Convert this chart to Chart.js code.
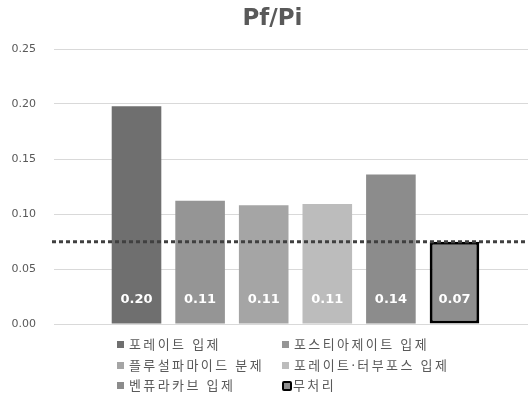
<!DOCTYPE html>
<html>
<head>
<meta charset="utf-8">
<script src="https://cdn.jsdelivr.net/npm/chart.js@4.4.1/dist/chart.umd.min.js"></script>
<style>
  html, body { margin: 0; padding: 0; background: #ffffff; }
  #wrap { position: relative; width: 528px; height: 398px; overflow: hidden; }
  #c { position: absolute; left: 0; top: 0; }
  #legend {
    position: absolute; left: 117px; top: 336px;
    display: grid; grid-template-columns: 165px 200px; row-gap: 3.5px;
    font-family: "Noto Sans", "Noto Sans CJK KR", sans-serif;
    font-size: 13px; letter-spacing: 2.4px; color: #595959; line-height: 17px;
  }
  .item { display: flex; align-items: center; white-space: nowrap; }
  .mk { display: inline-block; width: 7px; height: 7px; margin-right: 5px; box-sizing: border-box; flex: none; }
</style>
</head>
<body>
<div id="wrap">
  <canvas id="c" width="537" height="398"></canvas>
  <div id="legend"></div>
</div>
<script>
// Pf/Pi ratio per nematicide treatment
const chartTitle = 'Pf/Pi';
const categories = [''];
const seriesNames = ['포레이트 입제', '포스티아제이트 입제', '플루설파마이드 분제', '포레이트·터부포스 입제', '벤퓨라카브 입제', '무처리'];
const seriesValues = [0.198, 0.112, 0.108, 0.109, 0.136, 0.0748];
const yTicks = [0, 0.05, 0.10, 0.15, 0.20, 0.25];
// untreated level, drawn as the dotted reference line
const referenceValue = seriesValues[5];

const fills = ['#6f6f6f', '#959595', '#a5a5a5', '#bcbcbc', '#8c8c8c', '#8e8e8e'];

const datasets = seriesNames.map((name, i) => ({
  label: name,
  data: [seriesValues[i]],
  backgroundColor: fills[i],
  borderColor: i === 5 ? '#000000' : fills[i],
  borderWidth: i === 5 ? 3 : 0,
  borderSkipped: i === 5 ? false : 'start',
  barPercentage: 0.78,
  categoryPercentage: 0.79
}));

const titlePlugin = {
  id: 'titleText',
  afterDraw(chart) {
    const ctx = chart.ctx;
    ctx.save();
    ctx.font = 'bold 23px "DejaVu Sans", sans-serif';
    ctx.fillStyle = '#595959';
    ctx.textAlign = 'center';
    ctx.textBaseline = 'alphabetic';
    ctx.fillText(chartTitle, 272.5, 25);
    ctx.restore();
  }
};

const refLinePlugin = {
  id: 'refLine',
  afterDatasetsDraw(chart) {
    const y = chart.scales.y.getPixelForValue(referenceValue);
    const ctx = chart.ctx;
    ctx.save();
    ctx.strokeStyle = '#404040';
    ctx.lineWidth = 3;
    ctx.setLineDash([4, 3]);
    ctx.beginPath();
    ctx.moveTo(52, y);
    ctx.lineTo(chart.chartArea.right, y);
    ctx.stroke();
    ctx.restore();
  }
};

const valueLabelPlugin = {
  id: 'valueLabels',
  afterDatasetsDraw(chart) {
    const ctx = chart.ctx;
    const base = chart.scales.y.getPixelForValue(0);
    ctx.save();
    ctx.font = 'bold 13px "DejaVu Sans", sans-serif';
    ctx.fillStyle = '#ffffff';
    ctx.textAlign = 'center';
    ctx.textBaseline = 'middle';
    chart.data.datasets.forEach((ds, i) => {
      const bar = chart.getDatasetMeta(i).data[0];
      ctx.fillText(ds.data[0].toFixed(2), bar.x, base - 24);
    });
    ctx.restore();
  }
};

const chart = new Chart(document.getElementById('c'), {
  type: 'bar',
  data: { labels: categories, datasets },
  options: {
    responsive: false,
    animation: false,
    layout: { padding: { top: 49, bottom: 74, left: 0, right: 0 } },
    plugins: { legend: { display: false }, title: { display: false }, tooltip: { enabled: false } },
    scales: {
      x: { display: false },
      y: {
        min: 0, max: 0.25,
        afterBuildTicks(scale) { scale.ticks = yTicks.map(v => ({ value: v })); },
        afterFit(scale) { scale.width = 54; },
        border: { display: false },
        grid: { color: '#d9d9d9', lineWidth: 1, drawTicks: false },
        ticks: {
          padding: 18,
          color: '#595959',
          font: { family: '"DejaVu Sans", sans-serif', size: 11 },
          callback: v => v.toFixed(2)
        }
      }
    }
  },
  plugins: [titlePlugin, refLinePlugin, valueLabelPlugin]
});

// two-column legend built from the datasets
const legend = document.getElementById('legend');
chart.data.datasets.forEach((ds, i) => {
  const item = document.createElement('div');
  item.className = 'item';
  const mk = document.createElement('span');
  mk.className = 'mk';
  mk.style.background = ds.backgroundColor;
  if (i === 5) {
    mk.style.width = '10px';
    mk.style.height = '10px';
    mk.style.border = '2.5px solid #000';
    mk.style.borderRadius = '2px';
    mk.style.marginRight = '1px';
  }
  const tx = document.createElement('span');
  tx.textContent = ds.label;
  item.appendChild(mk);
  item.appendChild(tx);
  legend.appendChild(item);
});
</script>
</body>
</html>
